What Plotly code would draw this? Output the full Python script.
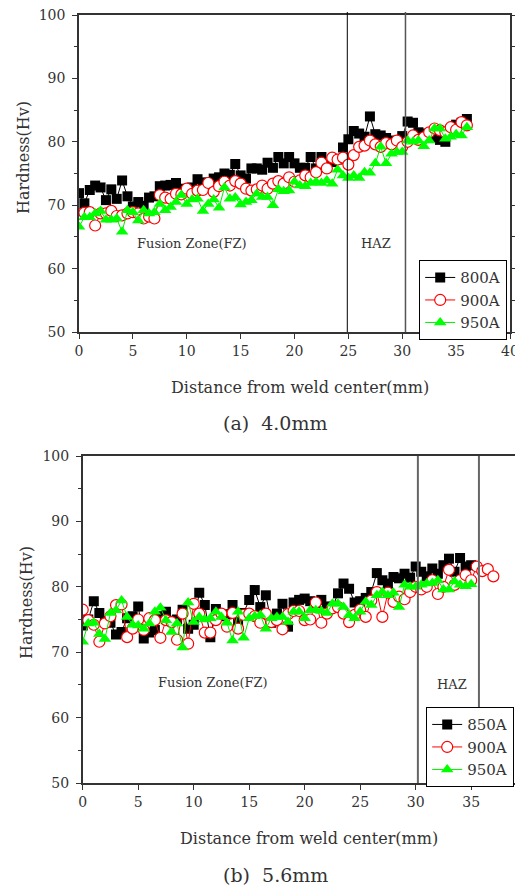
import plotly.graph_objects as go

# measurement positions (mm), 0.5 mm pitch
X_ALL = [0, 0.5, 1, 1.5, 2, 2.5, 3, 3.5, 4, 4.5, 5, 5.5, 6, 6.5, 7, 7.5, 8, 8.5, 9, 9.5,
         10, 10.5, 11, 11.5, 12, 12.5, 13, 13.5, 14, 14.5, 15, 15.5, 16, 16.5, 17, 17.5, 18, 18.5, 19, 19.5,
         20, 20.5, 21, 21.5, 22, 22.5, 23, 23.5, 24, 24.5, 25, 25.5, 26, 26.5, 27, 27.5, 28, 28.5, 29, 29.5,
         30, 30.5, 31, 31.5, 32, 32.5, 33, 33.5, 34, 34.5, 35, 35.5, 36, 36.5, 37]

# (a) 4.0mm
a_800 = [71.9, 70.3, 72.4, 73.1, 72.8, 70.8, 72.5, 71.0, 73.9, 71.4,
         69.8, 70.5, 69.9, 71.2, 71.4, 73.0, 73.1, 73.2, 73.5, 72.6,
         72.2, 72.8, 74.1, 73.6, 73.0, 74.2, 74.4, 75.0, 74.8, 76.5,
         74.7, 74.2, 75.8, 75.8, 75.6, 76.7, 75.9, 77.6, 76.6, 77.6,
         76.6, 75.9, 75.9, 77.6, 75.8, 77.6, 76.0, 76.8, 77.2, 79.1,
         80.4, 81.7, 81.3, 80.8, 84.0, 81.2, 81.0, 80.6, 80.2, 80.0,
         80.9, 83.2, 83.0, 81.5, 81.3, 81.2, 80.7, 80.3, 80.0, 82.0,
         82.7, 83.0, 83.6]
a_900 = [68.6, 68.8, 68.9, 66.8, 68.7, 68.7, 69.1, 68.3, 68.4, 68.7,
         68.9, 68.7, 67.9, 68.2, 67.9, 71.6, 71.2, 71.0, 71.8, 71.7,
         72.6, 71.8, 72.3, 72.4, 73.5, 72.1, 73.0, 73.7, 73.1, 73.8,
         73.4, 72.6, 72.3, 72.5, 73.1, 72.6, 73.4, 73.8, 73.4, 74.4,
         73.7, 73.9, 74.7, 74.4, 75.2, 76.7, 75.8, 77.5, 77.2, 77.5,
         76.4, 77.9, 79.2, 79.4, 80.2, 79.6, 79.2, 79.8, 79.6, 80.2,
         79.2, 80.0, 81.0, 80.3, 80.7, 81.5, 82.1, 81.8, 81.5, 82.3,
         81.9, 83.1, 82.6]
a_950 = [66.6, 68.1, 68.1, 68.7, 69.1, 67.7, 67.7, 67.9, 65.8, 69.2,
         68.9, 67.6, 69.2, 68.7, 68.9, 70.2, 69.2, 69.7, 70.5, 71.6,
         70.2, 70.9, 71.0, 69.1, 70.2, 70.9, 69.6, 72.8, 71.0, 71.2,
         70.1, 70.5, 70.8, 71.8, 71.3, 71.3, 70.0, 72.5, 72.2, 72.3,
         73.7, 73.1, 73.0, 73.5, 73.7, 73.5, 73.9, 73.4, 75.6, 74.7,
         74.3, 74.7, 74.3, 75.2, 75.1, 76.6, 79.2, 76.6, 78.1, 78.4,
         78.4, 80.2, 80.0, 80.2, 79.3, 80.2, 82.1, 82.1, 80.5, 80.8,
         81.2, 81.0, 82.3]

# (b) 5.6mm
b_850 = [74.1, 75.0, 77.8, 76.0, 74.8, 74.5, 72.7, 73.1, 75.2, 75.5,
         77.0, 72.1, 73.0, 73.4, 75.5, 76.2, 74.8, 75.0, 76.5, 73.6,
         74.2, 79.1, 77.2, 72.3, 76.6, 75.5, 75.8, 77.2, 74.6, 76.0,
         78.0, 79.5, 76.9, 78.7, 74.5, 75.9, 77.4, 73.9, 77.6, 78.0,
         78.2, 77.8, 77.5, 78.0, 77.0, 76.8, 79.0, 80.5, 79.7, 77.6,
         77.8, 78.3, 79.2, 82.1, 81.0, 80.5, 81.5, 81.3, 82.0, 81.4,
         83.1, 82.3, 81.6, 82.8, 82.0, 83.3, 84.3, 82.3, 84.4, 83.1,
         83.3]
b_900 = [76.5, 74.9, 74.2, 71.6, 74.4, 75.5, 77.2, 77.3, 72.3, 73.6,
         75.0, 73.4, 75.2, 74.9, 72.2, 74.9, 74.6, 71.9, 75.9, 71.3,
         77.4, 75.9, 73.0, 73.0, 74.9, 75.9, 73.9, 76.0, 73.6, 75.7,
         75.9, 75.5, 74.5, 75.9, 74.6, 74.9, 73.5, 75.8, 76.3, 76.3,
         74.9, 75.0, 77.6, 74.5, 75.9, 76.7, 76.9, 75.9, 74.6, 75.7,
         76.5, 75.4, 77.9, 79.2, 75.4, 79.1, 77.7, 78.5, 78.1, 79.2,
         80.0, 79.6, 80.0, 81.0, 78.9, 80.0, 82.6, 80.3, 81.0, 81.8,
         81.0, 83.1, 82.4, 82.7, 81.6]
b_950 = [71.6, 74.4, 74.5, 72.8, 72.0, 76.0, 76.4, 77.9, 75.4, 74.2,
         74.1, 73.6, 74.4, 76.2, 76.8, 74.9, 73.1, 74.4, 70.7, 77.6,
         74.6, 75.4, 75.0, 75.2, 76.2, 75.4, 74.5, 71.8, 76.2, 72.2,
         75.2, 75.5, 75.7, 73.6, 75.2, 75.4, 75.4, 74.6, 76.2, 76.2,
         75.2, 76.4, 76.4, 76.3, 76.0, 77.4, 77.4, 76.9, 75.7, 75.2,
         76.2, 77.7, 77.2, 78.7, 79.2, 78.7, 79.1, 76.9, 80.3, 80.0,
         80.0, 80.3, 80.5, 80.6, 81.0, 79.6, 79.6, 80.8, 80.3, 80.1,
         80.4]

haz_a = [24.9, 30.3]
haz_b = [30.2, 35.7]

FONT = "DejaVu Serif"
GREY = "#333333"

# the page body adds an 8px margin, so the figure is 8px smaller each way
OFF = 8
W, H = 523 - OFF, 888 - OFF
def px(x):
    return (x - OFF) / W
def py(y):
    return 1 - (y - OFF) / H

fig = go.Figure()

styles = [
    dict(color="black", marker=dict(symbol="square", size=10, color="black")),
    dict(color="red", marker=dict(symbol="circle", size=11, color="white",
                                  line=dict(color="red", width=1.2))),
    dict(color="#00ee00", marker=dict(symbol="triangle-up", size=11, color="#00ff00")),
]

for (name, ys), st in zip([("800A", a_800), ("900A", a_900), ("950A", a_950)], styles):
    fig.add_trace(go.Scatter(x=X_ALL[:len(ys)], y=ys, name=name, mode="lines+markers",
                             line=dict(color=st["color"], width=1), marker=st["marker"],
                             xaxis="x", yaxis="y", legend="legend"))

for (name, ys), st in zip([("850A", b_850), ("900A", b_900), ("950A", b_950)], styles):
    fig.add_trace(go.Scatter(x=X_ALL[:len(ys)], y=ys, name=name, mode="lines+markers",
                             line=dict(color=st["color"], width=1), marker=st["marker"],
                             xaxis="x2", yaxis="y2", legend="legend2"))

axis_common = dict(showline=True, linecolor=GREY, linewidth=1.5, ticks="outside",
                   ticklen=5, tickcolor=GREY, showgrid=False, zeroline=False,
                   automargin=False, ticklabeloverflow="allow",
                   tickfont=dict(family=FONT, size=14, color=GREY))

ydom_a = [py(332), py(15)]
ydom_b = [py(783), py(456)]

fig.update_layout(
    width=W, height=H,
    margin=dict(l=0, r=0, t=0, b=0, autoexpand=False),
    paper_bgcolor="white", plot_bgcolor="white",
    xaxis=dict(domain=[px(79), px(510)], range=[0, 40], dtick=5, anchor="y",
               mirror=True, **axis_common),
    yaxis=dict(domain=ydom_a, range=[50, 100], dtick=10, anchor="x", mirror="ticks",
               minor=dict(dtick=5, ticks="outside", ticklen=3, tickcolor=GREY),
               ticklabelstandoff=4, **axis_common),
    xaxis2=dict(domain=[px(82.7), 1.0], range=[0, 39.67], dtick=5, anchor="y2",
                mirror=True, **axis_common),
    yaxis2=dict(domain=ydom_b, range=[50, 100], dtick=10, anchor="x2", mirror="ticks",
                minor=dict(dtick=5, ticks="outside", ticklen=3, tickcolor=GREY),
                ticklabelstandoff=4, **axis_common),
    legend=dict(x=px(419), y=py(260), xanchor="left", yanchor="top",
                bgcolor="white", bordercolor="black", borderwidth=1.2,
                font=dict(family=FONT, size=15, color=GREY), tracegroupgap=0),
    legend2=dict(x=px(426), y=py(707), xanchor="left", yanchor="top",
                 bgcolor="white", bordercolor="black", borderwidth=1.2,
                 font=dict(family=FONT, size=15, color=GREY), tracegroupgap=0),
    showlegend=True,
)

# zone boundaries
fig.add_shape(type="line", xref="x", yref="paper", x0=haz_a[0], x1=haz_a[0],
              y0=ydom_a[0], y1=py(12), line=dict(color="black", width=1))
fig.add_shape(type="line", xref="x", yref="paper", x0=haz_a[1], x1=haz_a[1],
              y0=ydom_a[0], y1=py(12), line=dict(color="#555555", width=1.5))
for xv in haz_b:
    fig.add_shape(type="line", xref="x2", yref="paper", x0=xv, x1=xv,
                  y0=ydom_b[0], y1=ydom_b[1], line=dict(color="#666666", width=2))

def note(text, x, y, size, xref="paper", yref="paper", angle=0):
    fig.add_annotation(text=text, x=x, y=y, xref=xref, yref=yref, showarrow=False,
                       xanchor="center", yanchor="middle", textangle=angle,
                       font=dict(family=FONT, size=size, color=GREY))

note("Fusion Zone(FZ)", 10.5, 64, 13, "x", "y")
note("HAZ", 27.6, 64, 13, "x", "y")
note("Fusion Zone(FZ)", 11.7, 65.3, 13, "x2", "y2")
note("HAZ", 33.3, 65, 13, "x2", "y2")

note("Hardness(Hv)", px(24), py(158), 16, angle=-90)
note("Hardness(Hv)", px(26), py(603), 16, angle=-90)
note("Distance from weld center(mm)", px(300), py(387), 16)
note("Distance from weld center(mm)", px(309), py(838), 16)
note("(a)  4.0mm", px(275), py(423), 19)
note("(b)  5.6mm", px(275), py(875), 19)
# x=40 label of lower axis falls at the page edge
note("40", 40, py(800), 14, xref="x2")

fig.write_html("out.html")
